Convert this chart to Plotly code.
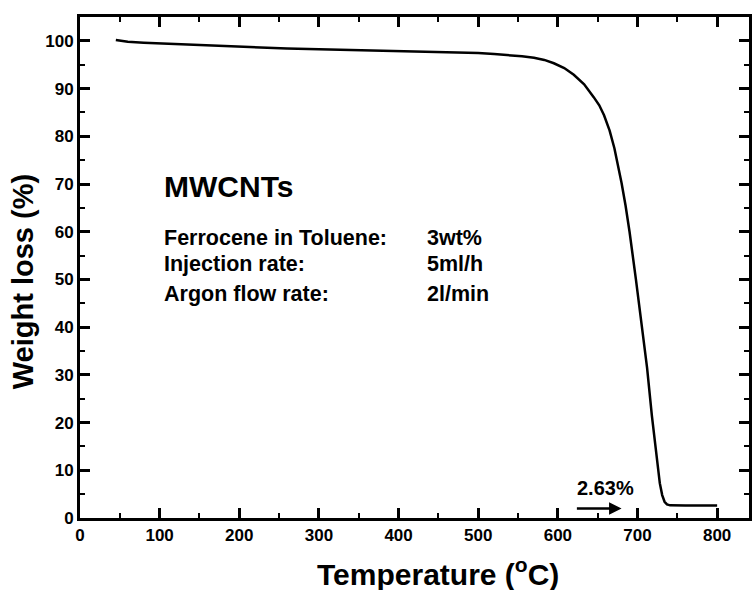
import plotly.graph_objects as go

temperature = [45, 60, 80, 100, 120, 150, 180, 220, 260, 300, 350, 400, 450, 480, 500, 520,
               540, 555, 570, 583, 595, 608, 620, 633, 645, 652, 658, 665, 671, 676, 680, 685,
               690, 698, 706, 712, 718, 722, 725, 728, 731, 734, 737, 741, 760, 800]
weight = [100.2, 99.8, 99.6, 99.45, 99.35, 99.1, 98.85, 98.6, 98.4, 98.25, 98.05, 97.9, 97.75,
          97.6, 97.45, 97.25, 97.0, 96.75, 96.45, 96.0, 95.3, 94.3, 92.9, 90.9, 88.2, 86.5,
          84.4, 81.2, 77.5, 73.5, 70.2, 65.5, 60.0, 50.0, 39.5, 31.5, 21.5, 15.5, 11.0, 7.3,
          4.8, 3.4, 2.85, 2.65, 2.63, 2.63]

x_ticks = [0, 100, 200, 300, 400, 500, 600, 700, 800]
y_ticks = [0, 10, 20, 30, 40, 50, 60, 70, 80, 90, 100]

info_labels = ["Ferrocene in Toluene:", "Injection rate:", "Argon flow rate:"]
info_values = ["3wt%", "5ml/h", "2l/min"]
info_y = [58.6, 53.2, 46.9]
residue_label = "2.63%"

FONT = "Arial, Liberation Sans, sans-serif"

fig = go.Figure()
fig.add_trace(go.Scatter(x=temperature, y=weight, mode="lines",
                         line=dict(color="black", width=2.5), showlegend=False))

axis_common = dict(
    showline=True, linecolor="black", linewidth=3, mirror="ticks",
    ticks="inside", ticklen=10, tickwidth=2.5, tickcolor="black",
    showgrid=False, zeroline=False,
    tickfont=dict(family=FONT, size=17, color="black", weight="bold"),
)

fig.update_xaxes(range=[0, 840], tickvals=x_ticks,
                 minor=dict(dtick=50, ticks="inside", ticklen=5, tickwidth=2, tickcolor="black"),
                 **axis_common)
fig.update_yaxes(range=[0, 105], tickvals=y_ticks,
                 minor=dict(dtick=5, ticks="inside", ticklen=5, tickwidth=2, tickcolor="black"),
                 **axis_common)

annotations = []
annotations.append(dict(x=103, y=69.5, xref="x", yref="y", text="<b>MWCNTs</b>",
                        showarrow=False, xanchor="left", yanchor="middle",
                        font=dict(family=FONT, size=30, color="black")))
for lab, val, yy in zip(info_labels, info_values, info_y):
    annotations.append(dict(x=103, y=yy, xref="x", yref="y", text="<b>%s</b>" % lab,
                            showarrow=False, xanchor="left", yanchor="middle",
                            font=dict(family=FONT, size=21.5, color="black")))
    annotations.append(dict(x=433, y=yy, xref="x", yref="y", text="<b>%s</b>" % val,
                            showarrow=False, xanchor="left", yanchor="middle",
                            font=dict(family=FONT, size=21.5, color="black")))
annotations.append(dict(x=660, y=6.2, xref="x", yref="y", text="<b>%s</b>" % residue_label,
                        showarrow=False, xanchor="center", yanchor="middle",
                        font=dict(family=FONT, size=20, color="black")))
annotations.append(dict(x=680, y=2.0, ax=622, ay=2.0, xref="x", yref="y", axref="x", ayref="y",
                        text="", showarrow=True, arrowhead=2, arrowsize=1, arrowwidth=2.5,
                        arrowcolor="black"))
annotations.append(dict(x=(440 - 80) / 672, y=-0.108, xref="paper", yref="paper",
                        text="<b>Temperature (<sup>o</sup>C)</b>", showarrow=False,
                        xanchor="center", yanchor="middle",
                        font=dict(family=FONT, size=30, color="black")))
annotations.append(dict(x=(23 - 80) / 672, y=(518 - 282) / 501, xref="paper", yref="paper",
                        text="<b>Weight loss (%)</b>", showarrow=False, textangle=-90,
                        xanchor="center", yanchor="middle",
                        font=dict(family=FONT, size=29, color="black")))

fig.update_layout(
    width=752, height=590,
    margin=dict(l=80, r=0, t=17, b=72),
    paper_bgcolor="white", plot_bgcolor="white",
    annotations=annotations,
    font=dict(family=FONT, color="black"),
)

fig.write_html("out.html")
